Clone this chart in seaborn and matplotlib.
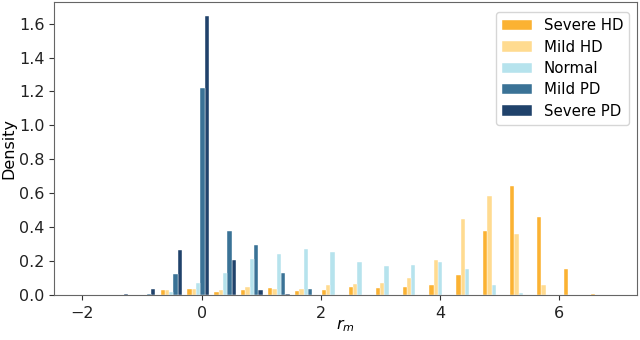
import numpy as np
import pandas as pd
import matplotlib
matplotlib.use("Agg")
import matplotlib.pyplot as plt
import seaborn as sns

# ==========================================
# Data (bin heights)
# ==========================================

groups = ["Severe HD", "Mild HD", "Normal", "Mild PD", "Severe PD"]
colors = ["#FBAE27", "#FFD98A", "#B2E2EC", "#2F6A91", "#143863"]

bin_lo, bin_hi, n_bins = -2.0875, 6.9325, 20

severe_hd = [0, 0, 0, 0.030, 0.034, 0.016, 0.030, 0.040, 0.024, 0.030,
             0.050, 0.040, 0.050, 0.060, 0.118, 0.378, 0.642, 0.459, 0.152, 0.004]
mild_hd = [0, 0, 0, 0.030, 0.034, 0.030, 0.045, 0.034, 0.034, 0.059,
           0.067, 0.069, 0.100, 0.205, 0.449, 0.584, 0.358, 0.057, 0, 0]
normal = [0, 0, 0, 0.018, 0.073, 0.128, 0.210, 0.242, 0.270, 0.256,
          0.193, 0.173, 0.180, 0.197, 0.152, 0.059, 0.010, 0, 0, 0]
mild_pd = [0, 0, 0.005, 0.126, 1.222, 0.378, 0.295, 0.128, 0.035, 0.003,
           0, 0, 0, 0, 0, 0, 0, 0, 0, 0]
severe_pd = [0, 0.008, 0.035, 0.266, 1.645, 0.207, 0.030, 0.005, 0, 0,
             0, 0, 0, 0, 0, 0, 0, 0, 0, 0]

# ==========================================
# Long-form table
# ==========================================

edges = np.linspace(bin_lo, bin_hi, n_bins + 1)
centers = (edges[:-1] + edges[1:]) / 2

series = [severe_hd, mild_hd, normal, mild_pd, severe_pd]
rows = []
for name, vals in zip(groups, series):
    for c, v in zip(centers, vals):
        rows.append({"r": c, "group": name, "w": v})
df = pd.DataFrame(rows)

# ==========================================
# Plot
# ==========================================

plt.rcParams["font.family"] = ["DejaVu Sans"]
plt.rcParams["font.size"] = 11.5

fig, ax = plt.subplots(figsize=(6.4, 3.4), dpi=100)

sns.histplot(
    data=df,
    x="r",
    weights="w",
    hue="group",
    hue_order=groups,
    palette=dict(zip(groups, colors)),
    bins=n_bins,
    binrange=(bin_lo, bin_hi),
    multiple="dodge",
    shrink=0.8,
    stat="count",
    alpha=0.95,
    edgecolor="white",
    linewidth=0.3,
    legend=True,
    ax=ax,
)

sns.move_legend(ax, "upper right", title=None, fontsize=10.8,
                frameon=True, handlelength=2.0, labelspacing=0.42,
                borderaxespad=0.4, bbox_to_anchor=(0.997, 0.985))

ax.set_xlim(-2.47, 7.3)
ax.set_ylim(0, 1.727)
ax.set_xticks([-2, 0, 2, 4, 6])
ax.set_yticks(np.arange(0, 1.61, 0.2))
ax.set_xlabel("$r_m$", labelpad=-3)
ax.set_ylabel("Density", labelpad=2)

for s in ax.spines.values():
    s.set_color("#666666")
ax.tick_params(colors="#333333", labelcolor="#222222")
ax.tick_params(axis="x", pad=4.5)

fig.subplots_adjust(left=0.085, right=0.995, top=0.994, bottom=0.132)
plt.savefig("out.png", dpi=100)
